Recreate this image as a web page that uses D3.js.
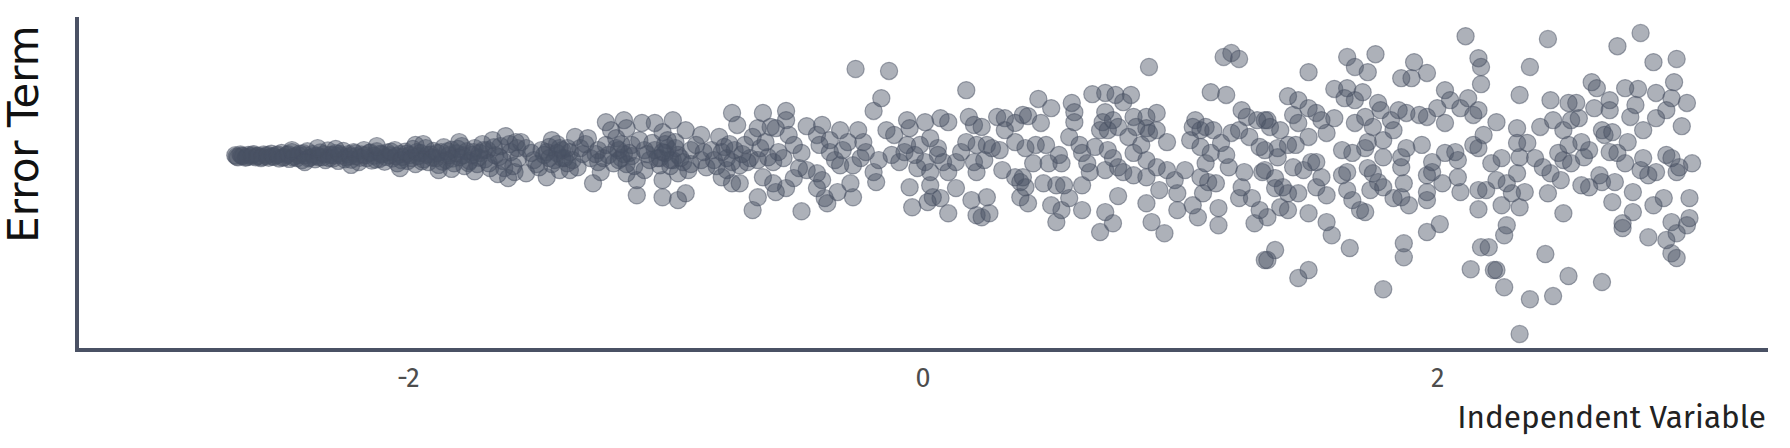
<!DOCTYPE html>
<html lang="en">
<head>
  <meta charset="UTF-8">
  <title>Error Term vs Independent Variable</title>
  <script src="https://d3js.org/d3.v7.min.js"></script>
  <style>
    body { margin: 0; background: #fff; }
    svg { display: block; }
  </style>
</head>
<body>
  <div id="chart"></div>

  <script>
    // Axis setup
    const xDomain = [-3.285, 3.285];
    const yDomain = [-4.85, 3.48];
    const xTicks = [-2, 0, 2];

    // Points, [independent variable, error term], left to right.
    // The narrow dense band on the left
    const bandPts = [
      [-2.67,0.02],[-2.66,-0.03],[-2.65,0.04],[-2.64,0],[-2.63,-0.04],[-2.62,0.03],[-2.61,-0.01],[-2.60,0.05],[-2.59,-0.03],
      [-2.58,0.01],[-2.57,-0.05],[-2.56,0.04],[-2.55,0],[-2.54,-0.04],[-2.53,0.06],[-2.52,-0.02],[-2.51,0.02],[-2.50,-0.06],
      [-2.49,0.08],[-2.48,-0.02],[-2.47,0.03],[-2.46,-0.07],[-2.45,0.1],[-2.44,0],[-2.43,-0.05],[-2.42,0.06],[-2.41,-0.1],
      [-2.40,0.02],[-2.39,0.12],[-2.38,-0.04],[-2.37,0.05],[-2.36,-0.08],[-2.35,0.01],[-2.34,0.09],[-2.33,-0.03],[-2.32,-0.1],
      [-2.31,0.14],[-2.30,0.03],
      [-2.29,-0.06],[-2.28,0.07],[-2.27,-0.12],[-2.26,0.02],[-2.25,0.13],[-2.24,-0.03],[-2.23,0.05],[-2.22,-0.09],[-2.21,0.1],
      [-2.20,0],[-2.19,-0.15],[-2.18,0.04],[-2.17,0.15],[-2.16,-0.05],[-2.15,0.08],[-2.14,-0.11],[-2.13,0.01],[-2.12,0.12],
      [-2.11,-0.07],[-2.10,0.04],
      [-2.09,-0.14],[-2.08,0.09],[-2.07,0.02],[-2.06,-0.06],[-2.05,0.15],[-2.04,-0.18],[-2.03,0.05],[-2.02,-0.02],[-2.01,0.11],
      [-2.00,-0.12],[-1.99,0.03],[-1.98,0.18],[-1.97,-0.2],[-1.96,0],[-1.95,0.08],[-1.94,-0.08],[-1.93,0.2],[-1.92,-0.15],
      [-1.91,0.04],[-1.90,0.13],
      [-1.89,-0.05],[-1.88,-0.22],[-1.87,0.1],[-1.86,0.22],[-1.85,-0.1],[-1.84,0.02],[-1.83,0.16],[-1.82,-0.18],[-1.81,0.07],
      [-1.80,-0.03],[-1.79,0.25],[-1.78,-0.25],[-1.77,0.12],[-1.76,-0.12],[-1.75,0.03],[-1.74,0.2],[-1.73,-0.2],[-1.72,0.08],
      [-1.71,0.3],[-1.70,-0.08],
      [-1.69,0.15],[-1.68,-0.3],[-1.67,0.4],[-1.66,0.02],[-1.65,-0.45],[-1.64,0.25],[-1.63,-0.12],[-1.62,0.5],[-1.61,-0.55],
      [-1.60,0.1],[-1.59,-0.25],[-1.58,0.35],[-1.57,-0.05]
    ];

    const bandFillPts = [
      [-2.665,-0.01],[-2.645,0.01],[-2.625,-0.02],[-2.605,0.02],[-2.585,0],[-2.565,-0.02],[-2.545,0.03],[-2.525,0],
      [-2.505,0.04],[-2.485,-0.04],[-2.465,0.05],[-2.445,-0.03],[-2.425,0.02],[-2.405,0.07],[-2.385,-0.06],[-2.365,0],
      [-2.345,-0.03],[-2.325,0.05],[-2.305,-0.05],[-2.285,0.02],[-2.265,0.06],[-2.245,-0.08],[-2.225,0],[-2.205,0.07],
      [-2.185,-0.04],[-2.165,0.02],[-2.145,0.09],[-2.125,-0.09],[-2.105,0.06],[-2.085,-0.02],[-2.065,0.11],[-2.045,0],
      [-2.025,-0.1],[-2.005,0.06],[-1.985,-0.05],[-1.965,0.1],[-1.945,-0.13],[-1.925,0.03],[-1.905,-0.04],[-1.885,0.08],
      [-1.865,-0.14],[-1.845,0.12],[-1.825,-0.06],[-1.805,0.18],[-1.785,0.02],[-1.765,-0.17],[-1.745,0.1],[-1.725,-0.04],
      [-1.705,0.15],[-1.685,-0.18],[-1.665,0.22],[-1.645,-0.02],[-1.625,-0.3],[-1.605,0.3],[-1.585,-0.4],[-1.575,0.2],
      [-2.45,0.15],[-2.40,-0.15],[-2.35,0.2],[-2.28,0.18],[-2.22,-0.22],[-2.12,0.25],[-2.03,-0.3],[-1.97,0.28],
      [-1.94,0.3],[-1.88,-0.35],[-1.83,-0.32],[-1.80,0.35],[-1.74,-0.38]
    ];

    const midLeftPts = [
      [-1.56,0.35],[-1.54,-0.43],[-1.52,0.08],[-1.45,0.23],[-1.42,0.08],[-1.40,0.15],[-1.41,-0.35],[-1.46,-0.53],[-1.49,-0.28],
      [-1.35,0.48],[-1.30,0.45],[-1.33,0.2],[-1.29,-0.05],[-1.34,-0.28],[-1.28,-0.68],[-1.37,-0.35],[-1.25,-0.4],
      [-1.23,0.85],[-1.16,0.9],[-1.09,0.83],[-1.15,0.7],[-1.21,0.65],[-1.23,0.28],[-1.18,0.15],[-1.14,0.08],[-1.20,-0.18],
      [-1.15,-0.43],[-1.11,-0.6],[-1.11,-0.98],[-1.08,-0.35],
      [-1.04,0.83],[-1.01,0.6],[-0.97,0.9],[-0.92,0.65],[-0.86,0.53],[-1.05,0.33],[-1.00,0.08],[-0.97,-0.1],[-1.02,-0.23],
      [-1.01,-0.6],[-0.95,-0.43],[-0.92,-0.93],[-0.95,-1.1],[-1.01,-1.03],
      [-0.90,0.15],[-0.86,-0.1],[-0.84,-0.28],[-0.91,-0.35],[-0.79,0.48],[-0.77,0.23],[-0.73,0.15],[-0.74,1.08],[-0.72,0.78],
      [-0.76,-0.35],[-0.74,-0.68],[-0.71,-0.68],[-0.78,-0.53],
      [-0.62,1.08],[-0.64,0.7],[-0.59,0.73],[-0.66,0.48],[-0.67,-0.05],[-0.64,-0.1],[-0.60,-0.03],[-0.62,-0.53],[-0.64,-1.03],
      [-0.66,-1.35],[-0.58,-0.68],
      [-1.47,0.03],[-1.43,-0.1],[-1.39,-0.05],[-1.37,0.1],[-1.44,0.4],[-1.38,-0.18],[-1.19,0.2],[-1.17,-0.05],[-1.13,0.28],
      [-1.22,0.03],[-1.04,0.15],[-1.02,-0.05],[-0.99,0.2],[-0.95,0.03],[-0.93,-0.15],[-0.99,0.4],[-0.88,0.28],[-0.82,0.15],
      [-0.81,-0.1],[-0.69,0.28],[-0.71,-0.23],[-0.76,-0.05],[-1.26,0.15],[-1.26,-0.15],[-1.51,-0.1],[-1.54,0.2],[-1.08,0.15],
      [-1.10,0.4],[-1.06,-0.1],
      [-1.46,0.1],[-1.44,-0.2],[-1.42,0.3],[-1.40,-0.05],[-1.38,0.2],[-1.36,-0.1],[-1.48,0.15],[-1.50,-0.2],[-1.32,0.05],
      [-1.31,0.3],[-1.27,0.05],[-1.24,-0.05],[-1.19,0.45],[-1.17,0.3],[-1.15,-0.2],[-1.13,0],[-1.12,-0.25],[-1.07,0.05],
      [-1.03,-0.05],[-1.00,0.3],[-0.98,-0.25],[-0.96,0.2],[-0.94,-0.05],[-0.90,-0.2],[-0.85,0.1],[-0.80,-0.25],[-0.78,0.1],
      [-0.75,0.3],[-0.70,0.05],[-0.68,-0.15],[-0.63,0.2],[-0.61,0.35],[-0.56,0.1],
      [-1.45,-0.05],[-1.41,0.2],[-1.18,-0.1],[-1.16,0.05],[-1.01,0.1],[-0.98,-0.1],[-0.96,0.35],[-0.74,-0.15]
    ];

    const centerPts = [
      [-0.26,2.18],[-0.13,2.13],[0.17,1.65],[-0.16,1.45],[-0.19,1.13],
      [-0.53,1.13],[-0.53,0.9],[-0.57,0.7],[-0.58,-0.15],[-0.54,-0.05],[-0.50,0.28],[-0.47,0.08],[-0.57,-0.9],[-0.53,-0.8],
      [-0.50,-0.55],[-0.45,-0.35],[-0.47,-1.38],
      [-0.45,0.75],[-0.39,0.78],[-0.41,0.53],[-0.40,0.28],[-0.36,0.1],[-0.34,-0.1],[-0.32,-0.23],[-0.41,-0.43],[-0.39,-0.6],
      [-0.41,-0.8],[-0.38,-1.05],[-0.37,-1.18],[-0.33,-0.9],[-0.27,-1.03],[-0.28,-0.68],[-0.32,0.65],[-0.29,0.35],[-0.25,0.65],
      [-0.23,0.35],[-0.22,0.1],[-0.24,-0.05],[-0.19,-0.4],[-0.18,-0.65],
      [-0.14,0.65],[-0.11,0.53],[-0.06,0.9],[-0.05,0.7],[0.01,0.85],[0.07,0.95],[0.10,0.85],[-0.06,0.28],[-0.12,0.03],
      [-0.09,-0.15],[-0.03,0.03],[-0.01,0.28],[0.03,0.45],[0.06,0.2],[0.01,-0.15],[0.03,-0.4],[0.08,-0.15],[0.10,-0.4],
      [0.13,-0.15],[0.13,-0.8],[0.03,-0.73],[0.04,-1.03],[0.02,-1.15],[0.07,-1.05],[-0.05,-0.78],[-0.04,-1.28],[0.10,-1.43],
      [0.18,0.98],[0.20,0.78],[0.23,0.73],[0.17,0.35],[0.21,0.28],[0.25,0.28],[0.27,0.2],[0.20,-0.15],[0.21,-0.4],[0.19,-1.1],
      [0.25,-1.03],[0.21,-1.48],[0.23,-1.53],[0.26,-1.43],
      [0.29,0.98],[0.32,0.95],[0.36,0.83],[0.39,1.03],[0.32,0.65],[0.36,0.35],[0.31,-0.35],[0.36,-0.53],[0.38,-0.65],[0.38,-1.03],
      [-0.31,0.15],[-0.27,-0.23],[-0.17,-0.1],[-0.07,0.1],[-0.02,-0.3],[0.06,0.03],[0.15,0.1],[0.24,-0.1],[0.30,0.15],
      [-0.52,0.53],[-0.48,-0.3],[-0.36,0.4]
    ];

    const midRightPts = [
      [0.88,2.23],[1.17,2.48],[1.20,2.58],[1.23,2.43],[1.12,1.6],[1.18,1.53],
      [0.45,1.43],[0.50,1.2],[0.41,1.0],[0.46,0.83],[0.58,1.33],[0.59,1.1],[0.59,0.85],[0.66,1.55],[0.71,1.58],[0.75,1.53],
      [0.81,1.53],[0.78,1.35],[0.71,1.1],[0.70,0.85],[0.74,0.9],[0.69,0.65],[0.72,0.65],[0.76,0.73],[0.82,0.98],[0.87,0.98],
      [0.91,1.08],[0.87,0.7],
      [0.40,0.2],[0.44,0.28],[0.48,0.28],[0.43,-0.18],[0.49,-0.18],[0.53,0.03],[0.54,-0.18],[0.39,-0.53],[0.40,-0.78],
      [0.41,-1.18],[0.47,-0.68],[0.52,-0.73],[0.55,-0.73],[0.50,-1.23],[0.54,-1.35],[0.57,-1.05],[0.52,-1.65],[0.62,-1.35],
      [0.57,0.48],[0.61,0.28],[0.62,0.08],[0.64,-0.18],[0.65,-0.4],[0.62,-0.73],[0.67,0.23],[0.72,0.15],[0.74,-0.05],
      [0.76,-0.28],[0.78,-0.4],[0.71,-0.35],[0.76,-1.0],[0.71,-1.4],[0.74,-1.68],[0.69,-1.9],
      [0.80,0.48],[0.83,0.73],[0.82,0.08],[0.85,0.28],[0.88,0.58],[0.91,0.65],[0.95,0.35],[0.87,-0.1],[0.91,-0.28],
      [0.95,-0.35],[0.82,-0.48],[0.87,-0.53],[0.92,-0.85],[0.87,-1.18],[0.89,-1.65],[0.94,-1.93],
      [0.98,-0.6],[0.99,-0.93],[0.99,-1.35],[1.02,-0.35],[1.05,0.73],[1.06,0.9],[1.04,0.4],[1.08,0.65],[1.10,0.73],
      [1.13,0.65],[1.08,0.23],[1.12,0.08],[1.10,-0.18],[1.08,-0.53],[1.11,-0.65],[1.14,-0.68],[1.09,-0.93],[1.05,-1.23],
      [1.07,-1.53],[1.15,-1.3],[1.15,-1.73],[1.16,0.33],[1.18,0.03],[1.19,-0.28],[1.20,0.58],
      [1.24,1.15],[1.26,0.98],[1.23,0.65],[1.27,0.48],[1.31,0.23],[1.30,0.9],[1.34,0.9],[1.25,-0.4],[1.24,-0.78],
      [1.23,-1.05],[1.28,-1.05],[1.32,-0.4],[1.31,-1.35],[1.29,-1.68],[1.33,-2.6]
    ];

    const rightPts = [
      [1.50,2.1],[1.65,2.48],[1.76,2.55],[1.68,2.23],[1.73,2.1],[1.91,2.35],[1.86,1.95],[1.90,1.95],[1.96,2.08],[2.11,3.0],
      [2.16,2.45],[2.17,2.23],[2.17,1.8],
      [1.42,1.5],[1.46,1.4],[1.60,1.68],[1.65,1.7],[1.64,1.45],[1.71,1.6],[1.68,1.4],[1.77,1.33],[1.78,1.15],[1.85,1.15],
      [1.88,1.08],[1.93,1.03],[1.96,0.98],[2.00,1.2],[2.03,1.65],[2.05,1.4],[2.09,1.2],[2.12,1.45],[2.14,1.03],[2.16,1.15],
      [2.03,0.83],
      [1.33,0.9],[1.35,0.73],[1.39,0.65],[1.44,1.03],[1.46,0.83],[1.50,1.2],[1.53,1.08],[1.55,0.9],[1.60,0.95],[1.57,0.58],
      [1.50,0.48],[1.45,0.28],[1.42,0.28],[1.38,0.2],[1.38,-0.03],[1.33,0.15],
      [1.68,0.83],[1.72,0.98],[1.75,0.73],[1.82,0.9],[1.83,0.65],[1.79,0.4],[1.73,0.35],[1.72,0.2],[1.67,0.08],[1.63,0.15],
      [1.79,-0.03],[1.86,-0.03],[1.88,0.2],[1.94,0.28],[1.86,-0.28],
      [1.44,-0.28],[1.48,-0.35],[1.51,-0.15],[1.53,-0.15],[1.55,-0.53],[1.53,-0.78],[1.57,-0.98],[1.63,-0.48],[1.65,-0.4],
      [1.65,-0.85],[1.67,-1.1],[1.70,-1.35],[1.72,-1.4],[1.73,-0.3],[1.75,-0.43],[1.77,-0.65],[1.79,-0.78],[1.74,-0.85],
      [1.83,-1.05],[1.86,-1.03],[1.89,-1.23],[1.87,-0.68],[1.96,-0.48],[1.98,-0.4],[1.98,-0.15],[1.96,-0.9],[1.96,-1.1],
      [2.02,-0.68],[2.03,0.08],[2.07,0.1],[2.08,-0.1],[2.08,-0.53],[2.09,-0.9],[2.14,0.28],[2.16,0.2],[2.18,0.53],
      [2.16,-0.85],[2.19,-0.85],
      [1.33,-0.35],[1.37,-0.55],[1.37,-0.8],[1.40,-0.78],[1.42,-0.93],[1.46,-0.93],[1.39,-1.28],[1.42,-1.35],[1.34,-1.53],
      [1.50,-1.43],[1.57,-1.65],[1.59,-1.98],[1.66,-2.3],[1.37,-2.35],[1.34,-2.6],[1.50,-2.85],[1.46,-3.05],[1.79,-3.33],
      [1.87,-2.18],[1.87,-2.53],[1.96,-1.9],[2.01,-1.7],[2.16,-1.33],[2.17,-2.28],[2.13,-2.83],[2.22,-2.85]
    ];

    const farRightPts = [
      [2.43,2.93],[2.79,3.08],[2.70,2.75],[2.84,2.35],[2.93,2.43],[2.36,2.23],[2.92,1.85],[2.32,1.53],
      [2.44,1.4],[2.51,1.33],[2.54,1.33],[2.60,1.85],[2.62,1.7],[2.61,1.2],[2.67,1.4],[2.67,1.15],[2.73,1.7],[2.78,1.68],
      [2.77,1.28],[2.75,0.98],[2.85,1.58],[2.91,1.45],[2.97,1.33],[2.89,1.15],[2.85,0.95],[2.95,0.75],
      [2.23,0.85],[2.31,0.7],[2.40,0.73],[2.45,0.9],[2.49,0.65],[2.52,0.9],[2.55,0.95],[2.64,0.65],[2.65,0.53],[2.68,0.6],
      [2.74,0.35],[2.80,0.65],
      [2.31,0.33],[2.35,0.33],[2.32,-0.03],[2.25,-0.05],[2.21,-0.18],[2.38,-0.05],[2.41,-0.28],[2.44,-0.43],[2.47,0.08],
      [2.49,-0.1],[2.52,-0.18],[2.51,0.28],[2.56,0.35],[2.59,0.15],[2.57,-0.03],[2.67,0.1],[2.70,0.08],[2.73,-0.18],
      [2.80,-0.05],[2.79,-0.35],[2.82,-0.48],[2.85,-0.4],[2.89,0.03],[2.91,-0.05],[2.94,-0.28],[2.93,-0.4],[2.99,-0.18],
      [2.23,-0.6],[2.27,-0.68],[2.31,-0.43],[2.34,-0.9],[2.29,-0.93],[2.25,-1.23],[2.32,-1.28],[2.43,-0.93],[2.48,-0.6],
      [2.56,-0.73],[2.59,-0.78],[2.63,-0.48],[2.64,-0.65],[2.69,-0.65],[2.68,-1.15],[2.76,-0.9],[2.76,-1.4],[2.72,-1.68],
      [2.72,-1.8],[2.84,-1.23],[2.88,-1.05],[2.98,-1.05],[2.91,-1.65],[2.98,-1.55],[2.97,-1.73],[2.93,-1.93],[2.82,-2.03],
      [2.89,-2.1],[2.91,-2.43],[2.93,-2.55],
      [2.27,-1.73],[2.26,-1.98],[2.49,-1.43],[2.20,-2.28],[2.42,-2.45],[2.23,-2.85],[2.26,-3.28],[2.51,-3.0],[2.64,-3.15],
      [2.36,-3.58],[2.45,-3.5],[2.32,-4.45]
    ];

    const points = [].concat(bandPts, bandFillPts, midLeftPts, centerPts, midRightPts, rightPts, farRightPts);

    // Dimensions
    const width = 1790, height = 448;
    const margin = {top: 17, right: 22, bottom: 98, left: 77};
    const ink = "#4a5164";
    const font = "'Fira Sans', 'Open Sans', sans-serif";

    const svg = d3.select("#chart").append("svg")
                  .attr("width", width)
                  .attr("height", height);

    const x = d3.scaleLinear().domain(xDomain).range([margin.left, width - margin.right]);
    const y = d3.scaleLinear().domain(yDomain).range([height - margin.bottom, margin.top]);

    // Points
    svg.append("g")
       .selectAll("circle")
       .data(points)
       .enter()
       .append("circle")
       .attr("cx", d => x(d[0]))
       .attr("cy", d => y(d[1]))
       .attr("r", 8.6)
       .style("fill", ink)
       .style("fill-opacity", 0.45)
       .style("stroke", ink)
       .style("stroke-opacity", 0.5)
       .style("stroke-width", 1.2);

    // Axis lines (left and bottom only)
    const [x0, x1] = x.range();
    const [yb, yt] = y.range();
    svg.append("path")
       .attr("d", `M${x0},${yt}V${yb}H${x1}`)
       .style("fill", "none")
       .style("stroke", ink)
       .style("stroke-width", 4);

    // Tick labels
    const xAxis = svg.append("g")
       .attr("transform", `translate(0,${yb})`)
       .call(d3.axisBottom(x).tickValues(xTicks).tickSize(0).tickPadding(18).tickFormat(d => String(d)));
    xAxis.select(".domain").remove();
    xAxis.selectAll("text")
       .style("font-family", font)
       .style("font-size", "27px")
       .style("fill", "#4d4d4d");

    // Axis titles
    svg.append("text")
       .attr("x", 1766)
       .attr("y", 428)
       .attr("text-anchor", "end")
       .style("font-family", font)
       .style("font-size", "31.5px")
       .style("fill", "#222")
       .text("Independent Variable");

    svg.append("text")
       .attr("transform", "translate(38,134) rotate(-90)")
       .attr("text-anchor", "middle")
       .style("font-family", "'DejaVu Sans', sans-serif")
       .style("font-size", "42px")
       .style("fill", "#111")
       .text("Error Term");
  </script>
</body>
</html>
